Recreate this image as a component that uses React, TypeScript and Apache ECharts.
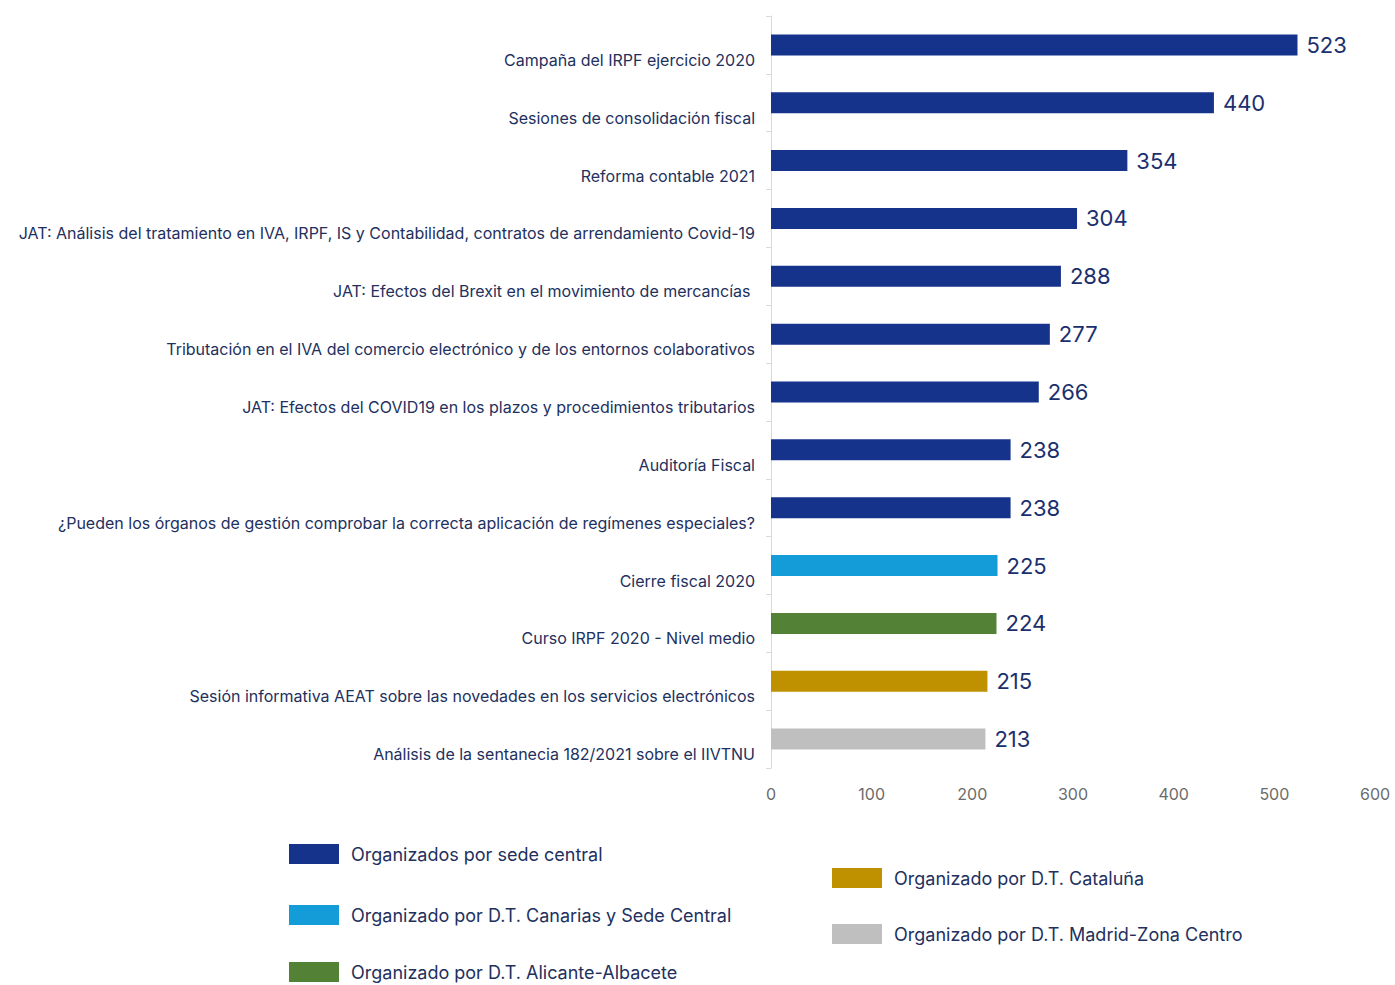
import React, { useEffect, useRef } from "react";
import * as echarts from "echarts";

const categories = [
  "Campaña del IRPF ejercicio 2020",
  "Sesiones de consolidación fiscal",
  "Reforma contable 2021",
  "JAT: Análisis del tratamiento en IVA, IRPF, IS y Contabilidad, contratos de arrendamiento Covid-19",
  "JAT: Efectos del Brexit en el movimiento de mercancías ",
  "Tributación en el IVA del comercio electrónico y de los entornos colaborativos",
  "JAT: Efectos del COVID19 en los plazos y procedimientos tributarios",
  "Auditoría Fiscal",
  "¿Pueden los órganos de gestión comprobar la correcta aplicación de regímenes especiales?",
  "Cierre fiscal 2020",
  "Curso IRPF 2020 - Nivel medio",
  "Sesión informativa AEAT sobre las novedades en los servicios electrónicos",
  "Análisis de la sentanecia 182/2021 sobre el IIVTNU",
];
const values = [523, 440, 354, 304, 288, 277, 266, 238, 238, 225, 224, 215, 213];
// group index of each category (which organiser)
const groups = [0, 0, 0, 0, 0, 0, 0, 0, 0, 1, 2, 3, 4];
const seriesNames = [
  "Organizados por sede central",
  "Organizado por D.T. Canarias y Sede Central",
  "Organizado por D.T. Alicante-Albacete",
  "Organizado por D.T. Cataluña",
  "Organizado por D.T. Madrid-Zona Centro",
];
const seriesColors = ["#16338C", "#139CD8", "#538135", "#BF9000", "#BFBFBF"];
const xTicks = [0, 100, 200, 300, 400, 500, 600];

const legendPos = [
  { left: 289, top: 844 },
  { left: 289, top: 905 },
  { left: 289, top: 962 },
  { left: 832, top: 868 },
  { left: 832, top: 924 },
];

export default function App() {
  const ref = useRef<HTMLDivElement>(null);
  useEffect(() => {
    if (!ref.current) return;
    const chart = echarts.init(ref.current, null, { renderer: "svg" });
    const font = "Inter, 'Noto Sans', sans-serif";
    const series = seriesNames.map((name, gi) => ({
      name,
      type: "bar",
      stack: "all",
      barWidth: 21,
      itemStyle: { color: seriesColors[gi] },
      data: values.map((v, i) => (groups[i] === gi ? v : "-")),
      label: {
        show: true,
        position: "right",
        distance: 9,
        color: "#1B2F6E",
        fontSize: 22,
        fontFamily: font,
      },
    }));
    chart.setOption({
      animation: false,
      textStyle: { fontFamily: font },
      grid: { left: 771, right: 20, top: 16, bottom: 217, containLabel: false },
      legend: seriesNames.map((name, i) => ({
        data: [name],
        left: legendPos[i].left,
        top: legendPos[i].top,
        orient: "vertical",
        icon: "rect",
        itemWidth: 50,
        itemHeight: 20,
        itemGap: 0,
        selectedMode: false,
        padding: 0,
        textStyle: { fontSize: 18, color: "#22305E", fontFamily: font, padding: [0, 0, 0, 7] },
      })),
      xAxis: {
        type: "value",
        min: 0,
        max: 600,
        interval: 100,
        axisLine: { show: false },
        axisTick: { show: false },
        splitLine: { show: false },
        axisLabel: {
          color: "#6B6B6B",
          fontSize: 16,
          margin: 18,
          fontFamily: font,
          formatter: (v: number) => (xTicks.includes(v) ? String(v) : ""),
        },
      },
      yAxis: {
        type: "category",
        data: categories,
        inverse: true,
        axisLine: { show: true, lineStyle: { color: "#D9D9D9", width: 1 } },
        axisTick: { show: true, length: 5, lineStyle: { color: "#D9D9D9" } },
        axisLabel: {
          color: "#22305E",
          fontSize: 16,
          margin: 16,
          fontFamily: font,
          verticalAlign: "top",
          lineHeight: 30,
        },
      },
      series,
    });
    return () => chart.dispose();
  }, []);
  return <div ref={ref} style={{ width: 1395, height: 985, position: "absolute", left: 0, top: 0 }} />;
}
